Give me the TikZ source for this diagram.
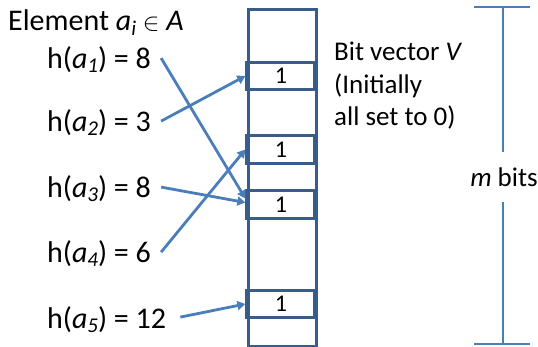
\documentclass[tikz,border=0pt]{standalone}
\usepackage{fontspec}
\setmainfont{Carlito}
\usetikzlibrary{arrows.meta}
\definecolor{boxblue}{RGB}{56,93,138}
\definecolor{linblue}{RGB}{74,126,187}
\newcommand\elsub[1]{\textit{a}\raisebox{-4pt}{\fontsize{21}{21}\selectfont\textit{#1}}}
\begin{document}
\begin{tikzpicture}[x=1pt,y=-1pt,
 lbl/.style={anchor=base west, inner sep=0pt, font=\fontsize{30}{36}\selectfont},
 txt/.style={anchor=base west, inner sep=0pt, font=\fontsize{27}{32}\selectfont},
 cell/.style={draw=boxblue, line width=3.3pt, minimum width=68pt, minimum height=27.5pt, inner sep=0pt, font=\fontsize{24}{28}\selectfont},
 arr/.style={draw=linblue, line width=2.8pt, -{Triangle[length=8pt,width=9pt]}},
 brk/.style={draw=linblue, line width=2.8pt}]
\useasboundingbox (0,0) rectangle (538,347);
% bit vector
\node[draw=boxblue, line width=3.3pt, minimum width=68pt, minimum height=337pt, inner sep=0pt, anchor=north west] (vec) at (247,8) {};
\node[cell] (b1) at (281,76) {1};
\node[cell] (b2) at (281,149.5) {1};
\node[cell] (b3) at (281,204.5) {1};
\node[cell] (b4) at (281,304) {1};
% labels
\node[lbl] (el) at (8,31) {Element \textit{a}\raisebox{-5pt}{\fontsize{21}{21}\selectfont\textit{i}} {\fontsize{34}{36}\selectfont$\in$} \textit{A}};
\node[lbl] (h1) at (47,69) {h(\elsub{1}) = 8};
\node[lbl] (h2) at (47,132) {h(\elsub{2}) = 3};
\node[lbl] (h3) at (47,198) {h(\elsub{3}) = 8};
\node[lbl] (h4) at (47,263) {h(\elsub{4}) = 6};
\node[lbl] (h5) at (47,328) {h(\elsub{5}) = 12};
% arrows
\draw[arr] ([xshift=10pt,yshift=2pt]h1.east) -- ([yshift=6pt]b3.west);
\draw[arr] ([xshift=10pt,yshift=2pt]h2.east) -- (b1.west);
\draw[arr] ([xshift=10pt,yshift=2pt]h3.east) -- ([yshift=2pt]b3.west);
\draw[arr] ([xshift=10pt,yshift=2pt]h4.east) -- (b2.west);
\draw[arr] ([xshift=14pt,yshift=2pt]h5.east) -- (b4.west);
% description
\node[txt] (t1) at (334,61) {Bit vector \textit{V}};
\node[txt] (t2) at (334,94) {(Initially};
\node[txt] (t3) at (334,126) {all set to 0)};
% m bits bracket
\node[txt, anchor=base] (mb) at (504,187) {\textit{m} bits};
\coordinate (tl) at (474,7);
\coordinate (tr) at (530,7);
\coordinate (tm) at (503,7);
\coordinate (te) at (503,152);
\coordinate (bl) at (474,344);
\coordinate (br) at (530,344);
\coordinate (bm) at (503,344);
\coordinate (be) at (503,202);
\draw[brk] (tl) -- (tr);
\draw[brk] (bl) -- (br);
\draw[brk] (tm) -- (te);
\draw[brk] (bm) -- (be);
\end{tikzpicture}
\end{document}
